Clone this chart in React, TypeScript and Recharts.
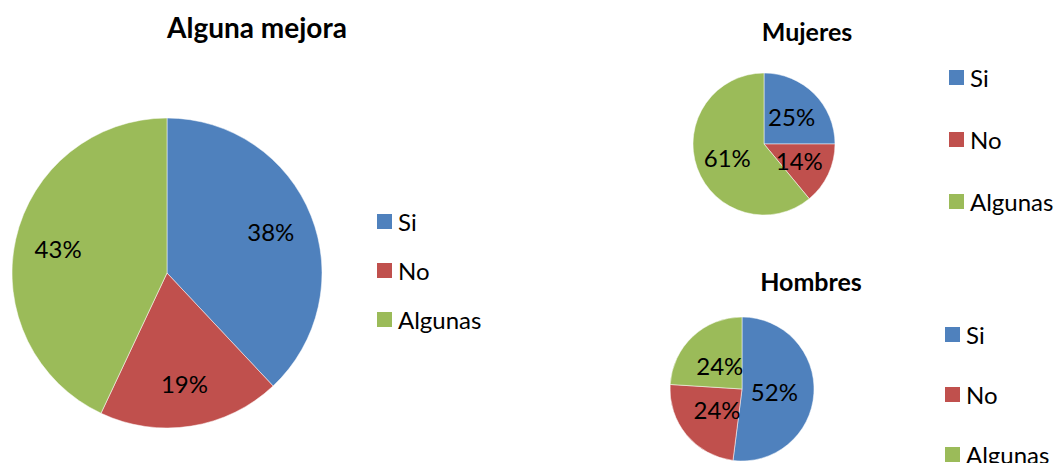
import React from "react";
import { PieChart, Pie, Cell } from "recharts";

const categories = ["Si", "No", "Algunas"];
const totalValues = [38, 19, 43];
const mujeresValues = [25, 14, 61];
const hombresValues = [52, 24, 24];

const COLORS = ["#4F81BD", "#C0504D", "#9BBB59"];
const FONT = "Lato, 'Liberation Sans', sans-serif";
const RAD = Math.PI / 180;

const toRows = (values: number[]) =>
  categories.map((name, i) => ({ name, value: values[i] }));

const makeLabel = (factor: number, size: number) => (props: any) => {
  const { cx, cy, midAngle, outerRadius, percent } = props;
  const r = outerRadius * factor;
  const x = cx + r * Math.cos(-midAngle * RAD);
  const y = cy + r * Math.sin(-midAngle * RAD);
  return (
    <text
      x={x}
      y={y}
      fill="#000"
      fontSize={size}
      fontFamily={FONT}
      textAnchor="middle"
      dominantBaseline="central"
    >
      {`${Math.round(percent * 100)}%`}
    </text>
  );
};

const LegendBox = ({ left, top, gap }: { left: number; top: number; gap: number }) => (
  <div style={{ position: "absolute", left, top, fontFamily: FONT, fontSize: 24 }}>
    {categories.map((c, i) => (
      <div
        key={c}
        style={{ position: "absolute", top: i * gap, left: 0, display: "flex", alignItems: "center", height: 26, whiteSpace: "nowrap" }}
      >
        <span style={{ width: 15, height: 15, background: COLORS[i], display: "inline-block", marginRight: 6 }} />
        <span>{c}</span>
      </div>
    ))}
  </div>
);

const Title = ({ text, cx, top, size }: { text: string; cx: number; top: number; size: number }) => (
  <div
    style={{
      position: "absolute",
      left: cx - 150,
      width: 300,
      top,
      textAlign: "center",
      fontFamily: FONT,
      fontWeight: 700,
      fontSize: size,
      lineHeight: 1,
    }}
  >
    {text}
  </div>
);

const SinglePie = ({ values, left, top, w, h, cx, cy, r, factor }: any) => (
  <div style={{ position: "absolute", left, top }}>
    <PieChart width={w} height={h} margin={{ top: 0, right: 0, bottom: 0, left: 0 }}>
      <Pie
        data={toRows(values)}
        dataKey="value"
        cx={cx}
        cy={cy}
        outerRadius={r}
        startAngle={90}
        endAngle={-270}
        stroke="#fff"
        strokeWidth={0.5}
        labelLine={false}
        label={makeLabel(factor, 24)}
        isAnimationActive={false}
      >
        {values.map((_: number, i: number) => (
          <Cell key={i} fill={COLORS[i]} />
        ))}
      </Pie>
    </PieChart>
  </div>
);

export default function App() {
  return (
    <div style={{ position: "absolute", left: 0, top: 0, width: 1058, height: 463, background: "#fff", overflow: "hidden" }}>
      <Title text="Alguna mejora" cx={257} top={13} size={28} />
      <SinglePie values={totalValues} left={0} top={0} w={520} h={463} cx={167} cy={273} r={155} factor={0.72} />
      <LegendBox left={377} top={208} gap={49} />

      <Title text="Mujeres" cx={807} top={19} size={25} />
      <SinglePie values={mujeresValues} left={660} top={0} w={280} h={240} cx={104} cy={144} r={71} factor={0.55} />
      <LegendBox left={949} top={64} gap={62} />

      <Title text="Hombres" cx={811} top={269} size={25} />
      <SinglePie values={hombresValues} left={640} top={260} w={300} h={203} cx={102} cy={129} r={72} factor={0.45} />
      <LegendBox left={945} top={321} gap={60} />
    </div>
  );
}
